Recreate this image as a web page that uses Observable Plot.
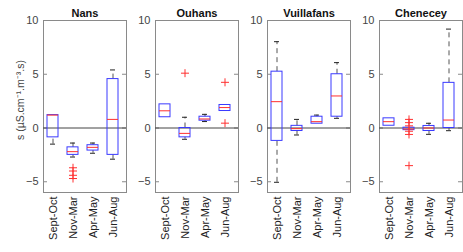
<!DOCTYPE html>
<html>
<head>
<meta charset="utf-8">
<script src="https://cdn.jsdelivr.net/npm/d3@7"></script>
<script src="https://cdn.jsdelivr.net/npm/@observablehq/plot@0.6"></script>
<style>
  html, body { margin: 0; padding: 0; background: #fff; }
  svg { font-family: "Liberation Sans", Arial, sans-serif; }
</style>
</head>
<body>
<div id="chart"></div>
<script>
const sites = ["Nans", "Ouhans", "Vuillafans", "Chenecey"];
const seasons = ["Sept-Oct", "Nov-Mar", "Apr-May", "Jun-Aug"];
const yTicks = [-5, 0, 5, 10];
const yLabel = "s (\u00B5S.cm\u207B\u00B9.m\u207B\u00B3.s)";

// rows = sites, columns = seasons
const whiskerLow = [
  [-1.5, -2.7, -2.35, -2.9],
  [1.0, -1.05, 0.6, 1.58],
  [-5.05, -0.65, 0.4, 0.9],
  [0.21, -0.2, -0.59, -0.25]
];
const q1 = [
  [-0.87, -2.5, -2.1, -2.5],
  [1.0, -0.87, 0.68, 1.58],
  [-1.2, -0.28, 0.4, 1.05],
  [0.21, -0.2, -0.28, 0.0]
];
const median = [
  [1.2, -2.2, -1.8, 0.8],
  [1.6, -0.5, 0.84, 1.9],
  [2.45, -0.06, 0.59, 2.98],
  [0.59, -0.1, 0.0, 0.74]
];
const q3 = [
  [1.2, -1.8, -1.6, 4.55],
  [2.2, 0.0, 1.05, 2.14],
  [5.24, 0.2, 1.05, 5.0],
  [0.9, 0.03, 0.19, 4.2]
];
const whiskerHigh = [
  [1.2, -1.4, -1.4, 5.4],
  [2.2, 1.0, 1.27, 2.14],
  [8.03, 0.8, 1.2, 6.08],
  [0.9, 0.03, 0.44, 9.2]
];
const outliers = [
  [[], [-3.7, -4.0, -4.4, -4.7], [], []],
  [[], [5.1], [], [4.25, 0.45]],
  [[], [], [], []],
  [[], [0.8, 0.5, 0.2, -0.3, -0.6, -3.5], [], []]
];

const boxes = sites.flatMap((site, i) => seasons.map((season, j) => ({
  site, season,
  lo: whiskerLow[i][j], q1: q1[i][j], med: median[i][j], q3: q3[i][j], hi: whiskerHigh[i][j]
})));
const lowerWhiskers = boxes.filter(d => d.lo < d.q1);
const upperWhiskers = boxes.filter(d => d.hi > d.q3);
const outlierPts = sites.flatMap((site, i) => seasons.flatMap((season, j) =>
  outliers[i][j].map(v => ({site, season, v}))));
const tickRows = sites.flatMap(site => yTicks.map(v => ({site, v})));

const blue = "#3a3aff";
const red = "#ff3030";

const chart = Plot.plot({
  width: 463,
  height: 252,
  marginLeft: 43,
  marginRight: 1,
  marginTop: 20,
  marginBottom: 60,
  style: {fontFamily: "'Liberation Sans', Arial, sans-serif", fontSize: "11px", color: "#333"},
  fx: {domain: sites, paddingInner: 0.26, paddingOuter: 0},
  x: {domain: seasons, paddingInner: 0.45, paddingOuter: 0.29, align: 0.36},
  y: {domain: [-6, 10]},
  marks: [
    Plot.frame({stroke: "#8a8a8a"}),
    Plot.tickY(tickRows, {fx: "site", y: "v", stroke: "#8a8a8a", insetRight: 79}),
    Plot.tickY(tickRows, {fx: "site", y: "v", stroke: "#8a8a8a", insetLeft: 79}),
    Plot.ruleY([0], {stroke: "#444", strokeWidth: 1}),
    Plot.ruleX(lowerWhiskers, {fx: "site", x: "season", y1: "lo", y2: "q1", stroke: "#555", strokeDasharray: "5,4"}),
    Plot.ruleX(upperWhiskers, {fx: "site", x: "season", y1: "q3", y2: "hi", stroke: "#555", strokeDasharray: "5,4"}),
    Plot.tickY(lowerWhiskers, {fx: "site", x: "season", y: "lo", stroke: "#222", insetLeft: 3, insetRight: 3}),
    Plot.tickY(upperWhiskers, {fx: "site", x: "season", y: "hi", stroke: "#222", insetLeft: 3, insetRight: 3}),
    Plot.barY(boxes, {fx: "site", x: "season", y1: "q1", y2: "q3", fill: "none", stroke: blue, strokeWidth: 1}),
    Plot.tickY(boxes, {fx: "site", x: "season", y: "med", stroke: red, strokeWidth: 1}),
    Plot.dot(outlierPts, {fx: "site", x: "season", y: "v", symbol: "plus", stroke: red, r: 2.7, strokeWidth: 1}),
    Plot.axisFx({anchor: "top", tickSize: 0, tickPadding: 4, label: null, fontWeight: "bold", fontSize: 11, fill: "#111"}),
    Plot.axisY({ticks: yTicks, tickSize: 0, tickPadding: 5, label: null, facetAnchor: null, fill: "#444", fontSize: 11}),
    Plot.axisX({tickSize: 0, tickPadding: 4, tickRotate: -90, label: null, fill: "#222", fontSize: 11}),
    Plot.text([sites[0]], {fx: d => d, frameAnchor: "left", textAnchor: "middle", y: 2.6, dx: -23, rotate: -90, text: () => yLabel, fontSize: 10.5, fill: "#444"})
  ]
});
document.getElementById("chart").appendChild(chart);
</script>
</body>
</html>
